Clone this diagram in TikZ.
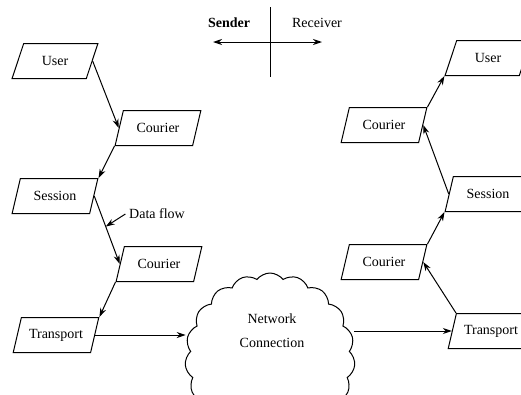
\documentclass[tikz,border=0pt]{standalone}
\usepackage{fontspec}
\setmainfont{Liberation Serif}
\usetikzlibrary{positioning,arrows.meta,shapes.geometric,shapes.symbols}

\tikzset{
  layer/.style={draw, trapezium, trapezium left angle=65, trapezium right angle=115,
    trapezium stretches=true, minimum width=86pt, minimum height=35pt, inner sep=1pt},
}

\begin{document}
\begin{tikzpicture}[x=1pt, y=-1pt, line width=1pt,
  font=\fontsize{14}{18}\selectfont,
  > = {Stealth[length=9pt, width=6pt]}]
\useasboundingbox (0,0) rectangle (521,394);
\clip (0,0) rectangle (521,394);

% sender / receiver
\node (sender) at (229,23) {\textbf{Sender}};
\node (receiver) at (317,23) {Receiver};
\coordinate (vtop) at (270,7);
\coordinate (vbot) at (270,77);
\coordinate (hleft) at (213,42);
\coordinate (hright) at (322,42);
\draw (vtop) -- (vbot);
\draw[<->] (hleft) -- (hright);

% sending side
\node (user) [layer] at (55,61) {User};
\node (courier) [layer] at (158,128) {Courier};
\node (session) [layer] at (55,196) {Session};
\node (courier2) [layer] at (159,264) {Courier};
\node (transport) [layer] at (56,335) {Transport};

% receiving side
\node (ruser) [layer] at (488,58) {User};
\node (rcourier) [layer] at (384,125) {Courier};
\node (rsession) [layer] at (488,194) {Session};
\node (rcourier2) [layer] at (384,262) {Courier};
\node (rtransport) [layer] at (491,331) {Transport};

% network
\node (net) [draw, cloud, cloud puffs=19, cloud puff arc=105, aspect=1,
  minimum width=170pt, minimum height=170pt] at (270,358) {};
\node (netlabel) [align=center] at (272,331) {Network\\[6pt]Connection};

\node (dflabel) at (157,214) {Data flow};

\draw[->] (user.east) to (courier.west);
\draw[->] (courier.bottom left corner) to (session.top right corner);
\draw[->] (session.east) to coordinate[pos=0.45] (flow) (courier2.west);
\draw[->] (courier2.bottom left corner) to (transport.top right corner);
\draw[->] (transport.east) to (transport.east -| net.west);
\draw[->] (dflabel.west) to (flow);

\draw[->] (rtransport.west -| net.east) to (rtransport.west);
\draw[->] (rtransport.top left corner) to (rcourier2.east);
\draw[->] (rcourier2.top right corner) to (rsession.bottom left corner);
\draw[->] (rsession.west) to (rcourier.east);
\draw[->] (rcourier.top right corner) to (ruser.bottom left corner);
\end{tikzpicture}
\end{document}
